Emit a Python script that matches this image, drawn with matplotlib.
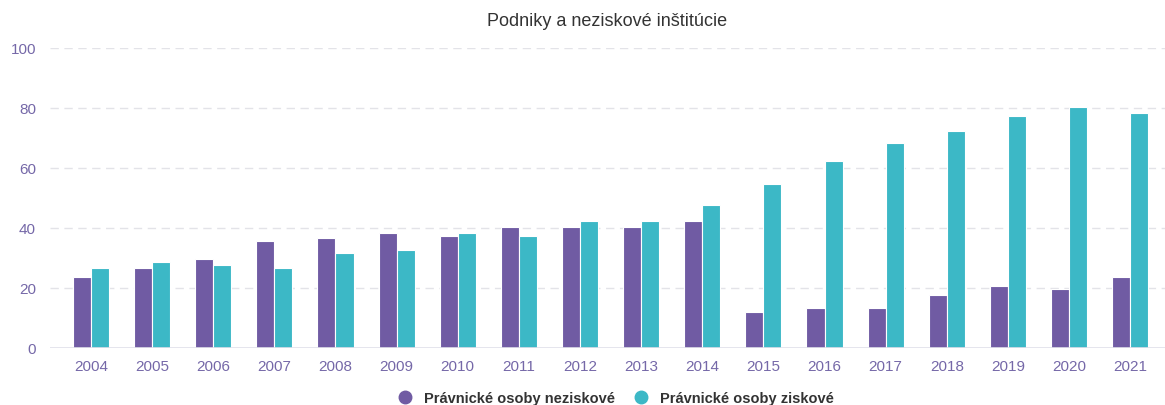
import matplotlib
matplotlib.use("Agg")
import matplotlib.pyplot as plt
from matplotlib.lines import Line2D
import numpy as np

FONT = "Liberation Sans"
PURPLE = "#705BA3"
TEAL = "#3CB8C6"
TICK_C = "#7568A8"
GRID_C = "#E3E3E8"

years = ["2004", "2005", "2006", "2007", "2008", "2009", "2010", "2011", "2012",
         "2013", "2014", "2015", "2016", "2017", "2018", "2019", "2020", "2021"]
neziskove = [23.6, 26.7, 29.8, 35.8, 36.8, 38.4, 37.4, 40.4, 40.4, 40.4, 42.4, 11.9,
             13.4, 13.4, 17.6, 20.6, 19.6, 23.6]
ziskove = [26.7, 28.7, 27.8, 26.7, 31.8, 32.8, 38.4, 37.4, 42.4, 42.4, 47.6, 54.6,
           62.3, 68.4, 72.4, 77.4, 80.4, 78.4]
labels = ["Právnické osoby neziskové", "Právnické osoby ziskové"]

W, H = 1165, 406
fig = plt.figure(figsize=(W / 100, H / 100), dpi=100)
fig.patch.set_facecolor("white")

# plot area in pixels: x 50..1165, y 49..349
ax = fig.add_axes([50 / W, (H - 349) / H, 1115 / W, 300 / H])

x = np.arange(len(years))
bw = 0.295
ax.bar(x - bw / 2, neziskove, bw, color=PURPLE, edgecolor="white", linewidth=0.8, zorder=3)
ax.bar(x + bw / 2, ziskove, bw, color=TEAL, edgecolor="white", linewidth=0.8, zorder=3)

ax.set_xlim(-0.67, 17.57)
ax.set_ylim(0, 100)
ax.set_yticks([0, 20, 40, 60, 80, 100])
ax.set_xticks(x)
ax.set_xticklabels(years)

for y in [20, 40, 60, 80, 100]:
    ax.axhline(y, color=GRID_C, linewidth=1, linestyle=(0, (6, 4)), zorder=1)
ax.axhline(0, color="#E0E0EA", linewidth=1.2, zorder=4)

for s in ax.spines.values():
    s.set_visible(False)
ax.tick_params(length=0)
ax.tick_params(axis="y", pad=10, labelsize=11, labelcolor=TICK_C)
ax.tick_params(axis="x", pad=8, labelsize=11, labelcolor=TICK_C)
for t in ax.get_xticklabels() + ax.get_yticklabels():
    t.set_fontfamily(FONT)

fig.text(607 / W, 1 - 22 / H, "Podniky a neziskové inštitúcie", ha="center", va="center",
         fontsize=13, color="#333333", fontfamily=FONT)

handles = [Line2D([], [], marker="o", linestyle="none", markersize=9, color=c)
           for c in (PURPLE, TEAL)]
fig.legend(handles, labels, loc="center", bbox_to_anchor=(612 / W, 1 - 399 / H), ncol=2,
           frameon=False, handletextpad=0.3, columnspacing=0.8, borderaxespad=0,
           prop={"family": FONT, "weight": "bold", "size": 10.5}, labelcolor="#333333")

fig.savefig("out.png", dpi=100, facecolor="white")
